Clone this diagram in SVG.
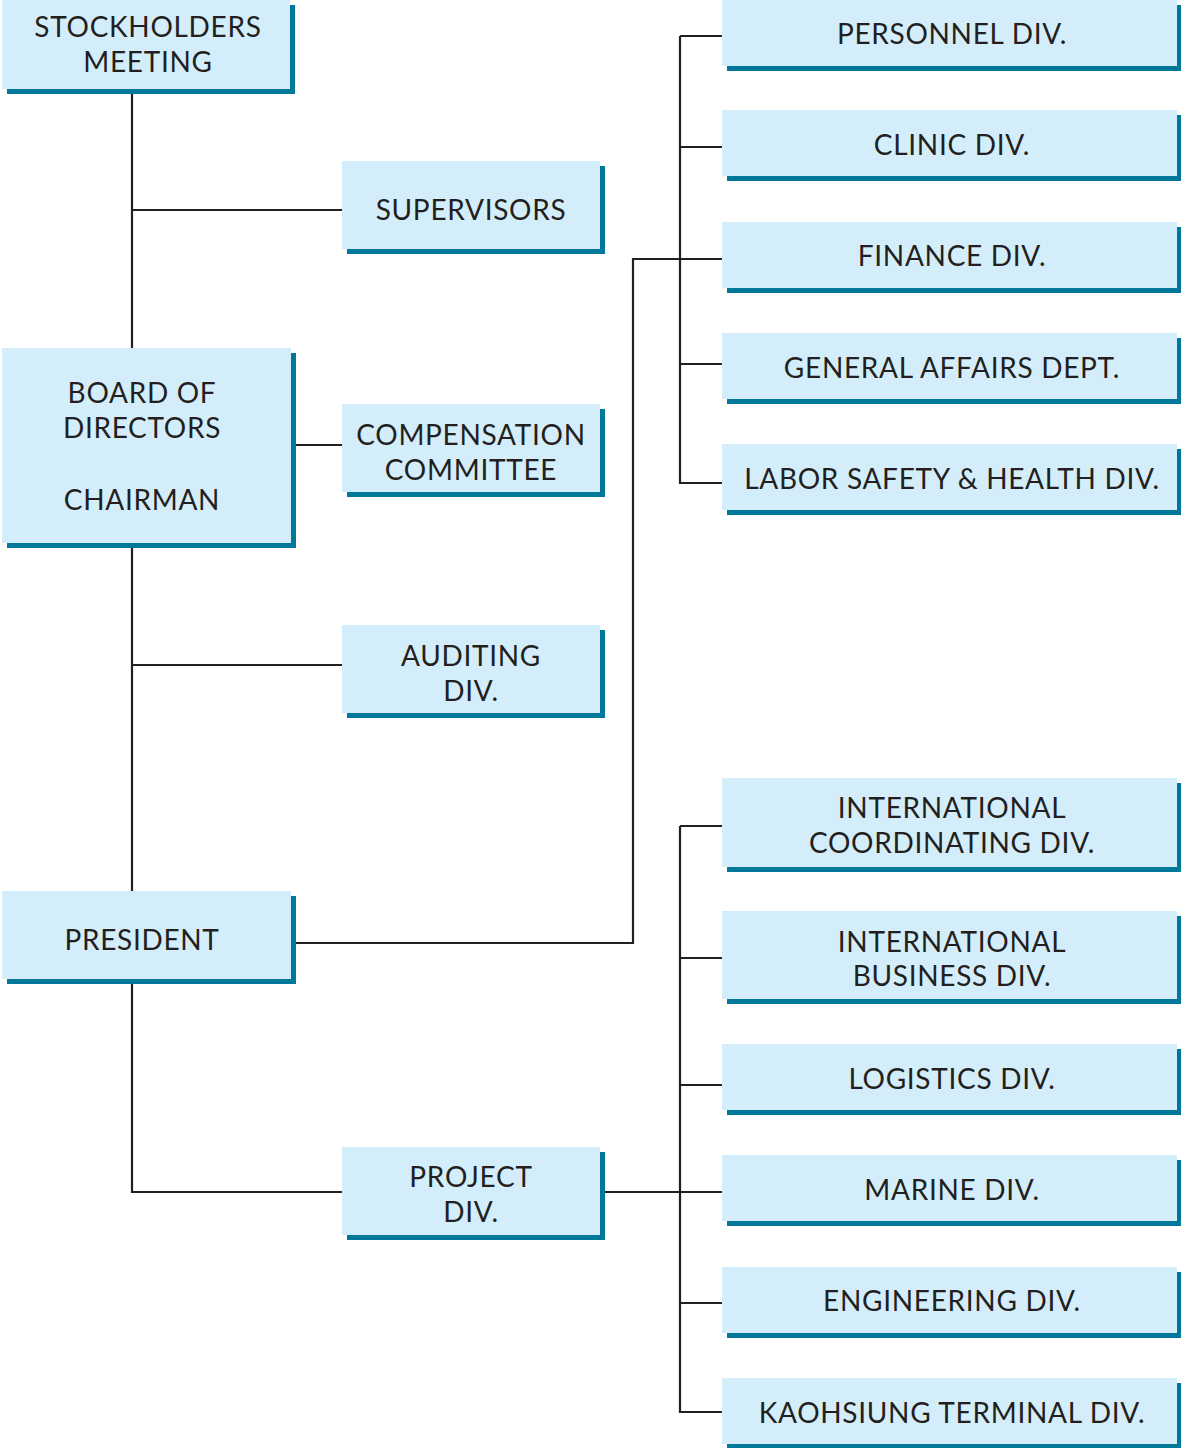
<svg xmlns="http://www.w3.org/2000/svg" width="1181" height="1448" viewBox="0 0 1181 1448">
<style>
.sh{fill:#00789a}
.bx{fill:#d3eefa}
text{font-family:Lato,"Noto Sans",sans-serif;font-size:28px;letter-spacing:0.7px;fill:#231f20;text-anchor:middle}
.cn{fill:none;stroke:#231f20;stroke-width:2.2}
</style>
<rect width="1181" height="1448" fill="#ffffff"/>
<g id="connectors">
<path class="cn" d="M132 93V891M132 983V1192H342M132 210H342M295 445H342M132 665H342M295 943H633V259H722M680 36V483H722M680 36H722M680 147H722M680 259H722M680 364H722M680 826V1412H722M680 826H722M680 958H722M680 1085H722M680 1192H722M680 1303H722M605 1192H680"/>
</g>
<g id="stockholders"><rect class="sh" x="7" y="5" width="288" height="89"/><rect class="bx" x="2" y="0" width="288" height="89"/><text x="148" y="37">STOCKHOLDERS</text><text x="148" y="72">MEETING</text></g>
<g id="supervisors"><rect class="sh" x="347" y="166" width="258" height="88"/><rect class="bx" x="342" y="161" width="258" height="88"/><text x="471" y="220">SUPERVISORS</text></g>
<g id="board"><rect class="sh" x="7" y="353" width="289" height="195"/><rect class="bx" x="2" y="348" width="289" height="195"/><text x="142" y="403">BOARD OF</text><text x="142" y="438">DIRECTORS</text><text x="142" y="510">CHAIRMAN</text></g>
<g id="compensation"><rect class="sh" x="347" y="409" width="258" height="88"/><rect class="bx" x="342" y="404" width="258" height="88"/><text x="471" y="445">COMPENSATION</text><text x="471" y="480">COMMITTEE</text></g>
<g id="auditing"><rect class="sh" x="347" y="630" width="258" height="88"/><rect class="bx" x="342" y="625" width="258" height="88"/><text x="471" y="666">AUDITING</text><text x="471" y="701">DIV.</text></g>
<g id="president"><rect class="sh" x="7" y="896" width="289" height="88"/><rect class="bx" x="2" y="891" width="289" height="88"/><text x="142" y="950">PRESIDENT</text></g>
<g id="project"><rect class="sh" x="347" y="1152" width="258" height="88"/><rect class="bx" x="342" y="1147" width="258" height="88"/><text x="471" y="1187">PROJECT</text><text x="471" y="1222">DIV.</text></g>
<g id="personnel"><rect class="sh" x="727" y="5" width="455" height="66"/><rect class="bx" x="722" y="0" width="455" height="66"/><text x="952" y="44">PERSONNEL DIV.</text></g>
<g id="clinic"><rect class="sh" x="727" y="115" width="455" height="66"/><rect class="bx" x="722" y="110" width="455" height="66"/><text x="952" y="155">CLINIC DIV.</text></g>
<g id="finance"><rect class="sh" x="727" y="227" width="455" height="66"/><rect class="bx" x="722" y="222" width="455" height="66"/><text x="952" y="266">FINANCE DIV.</text></g>
<g id="general"><rect class="sh" x="727" y="338" width="455" height="66"/><rect class="bx" x="722" y="333" width="455" height="66"/><text x="952" y="378">GENERAL AFFAIRS DEPT.</text></g>
<g id="labor"><rect class="sh" x="727" y="449" width="455" height="66"/><rect class="bx" x="722" y="444" width="455" height="66"/><text x="952" y="489">LABOR SAFETY &amp; HEALTH DIV.</text></g>
<g id="intlcoord"><rect class="sh" x="727" y="783" width="455" height="89"/><rect class="bx" x="722" y="778" width="455" height="89"/><text x="952" y="818">INTERNATIONAL</text><text x="952" y="853">COORDINATING DIV.</text></g>
<g id="intlbiz"><rect class="sh" x="727" y="916" width="455" height="88"/><rect class="bx" x="722" y="911" width="455" height="88"/><text x="952" y="952">INTERNATIONAL</text><text x="952" y="986">BUSINESS DIV.</text></g>
<g id="logistics"><rect class="sh" x="727" y="1049" width="455" height="66"/><rect class="bx" x="722" y="1044" width="455" height="66"/><text x="952" y="1089">LOGISTICS DIV.</text></g>
<g id="marine"><rect class="sh" x="727" y="1160" width="455" height="66"/><rect class="bx" x="722" y="1155" width="455" height="66"/><text x="952" y="1200">MARINE DIV.</text></g>
<g id="engineering"><rect class="sh" x="727" y="1272" width="455" height="66"/><rect class="bx" x="722" y="1267" width="455" height="66"/><text x="952" y="1311">ENGINEERING DIV.</text></g>
<g id="kaohsiung"><rect class="sh" x="727" y="1383" width="455" height="66"/><rect class="bx" x="722" y="1378" width="455" height="66"/><text x="952" y="1423">KAOHSIUNG TERMINAL DIV.</text></g>
</svg>
